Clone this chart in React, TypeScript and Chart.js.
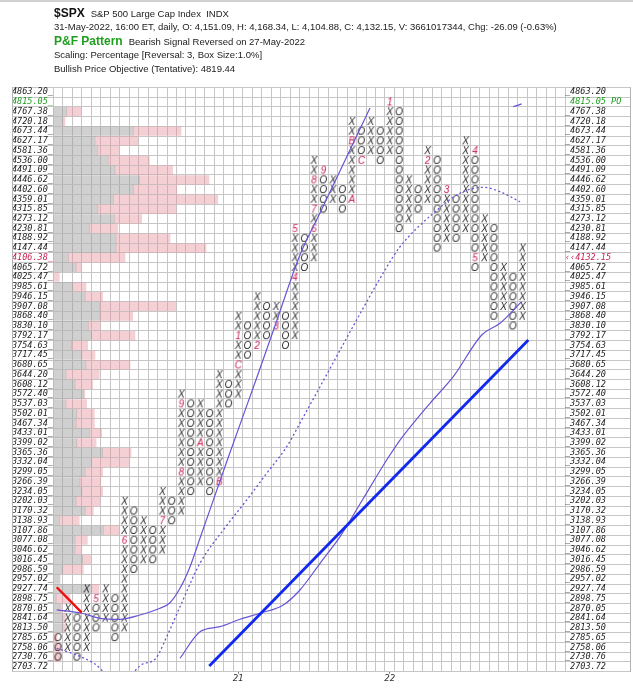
import React, { useEffect, useRef } from 'react';
import { Chart, registerables } from 'chart.js';

Chart.register(...registerables);

// ---------- DATA ----------
const priceLevels = [4863.20, 4815.05, 4767.38, 4720.18, 4673.44, 4627.17, 4581.36, 4536.00, 4491.09, 4446.62,
  4402.60, 4359.01, 4315.85, 4273.12, 4230.81, 4188.92, 4147.44, 4106.38, 4065.72, 4025.47,
  3985.61, 3946.15, 3907.08, 3868.40, 3830.10, 3792.17, 3754.63, 3717.45, 3680.65, 3644.20,
  3608.12, 3572.40, 3537.03, 3502.01, 3467.34, 3433.01, 3399.02, 3365.36, 3332.04, 3299.05,
  3266.39, 3234.05, 3202.03, 3170.32, 3138.93, 3107.86, 3077.08, 3046.62, 3016.45, 2986.59,
  2957.02, 2927.74, 2898.75, 2870.05, 2841.64, 2813.50, 2785.65, 2758.06, 2730.76, 2703.72];

const lastClose = 4132.15;
const lastCloseBox = 4106.38;
const priceObjectiveBox = 4815.05;

const columnTypes = ['O', 'X', 'O', 'X', 'O', 'X', 'O', 'X', 'O', 'X', 'O', 'X', 'O', 'X', 'O', 'X', 'O', 'X', 'O', 'X',
  'O', 'X', 'O', 'X', 'O', 'X', 'O', 'X', 'O', 'X', 'O', 'X', 'O', 'X', 'O', 'X', 'O', 'X', 'O', 'X',
  'O', 'X', 'O', 'X', 'O', 'X', 'O', 'X', 'O', 'X'];

const columnHighs = [2785.65, 2870.05, 2841.64, 2927.74, 2898.75, 2927.74, 2898.75, 3202.03, 3170.32, 3138.93,
  3107.86, 3234.05, 3202.03, 3572.40, 3537.03, 3537.03, 3502.01, 3644.20, 3608.12, 3868.40,
  3830.10, 3946.15, 3907.08, 3907.08, 3868.40, 4230.81, 4188.92, 4536.00, 4491.09, 4446.62,
  4402.60, 4720.18, 4673.44, 4720.18, 4673.44, 4815.05, 4767.38, 4446.62, 4402.60, 4581.36,
  4536.00, 4402.60, 4359.01, 4627.17, 4581.36, 4273.12, 4230.81, 4065.72, 4025.47, 4147.44];

const columnLows = [2730.76, 2758.06, 2730.76, 2758.06, 2813.50, 2841.64, 2785.65, 2813.50, 2986.59, 3016.45,
  3016.45, 3046.62, 3138.93, 3170.32, 3234.05, 3266.39, 3234.05, 3266.39, 3537.03, 3572.40,
  3717.45, 3754.63, 3792.17, 3830.10, 3754.63, 3792.17, 4065.72, 4106.38, 4315.85, 4359.01,
  4315.85, 4359.01, 4536.00, 4581.36, 4536.00, 4581.36, 4230.81, 4273.12, 4315.85, 4359.01,
  4147.44, 4188.92, 4188.92, 4230.81, 4065.72, 4106.38, 3868.40, 3907.08, 3830.10, 3868.40];

const monthColumns = [4, 7, 11, 13, 13, 15, 17, 19, 19, 21, 23, 25, 25, 27, 27, 27, 28, 31, 31, 32, 35, 39, 41, 44, 44];
const monthPrices = [2898.75, 3077.08, 3138.93, 3299.05, 3537.03, 3399.02, 3266.39, 3680.65, 3792.17, 3754.63,
  3830.10, 4025.47, 4230.81, 4230.81, 4315.85, 4446.62, 4491.09, 4359.01, 4627.17, 4536.00,
  4815.05, 4536.00, 4402.60, 4581.36, 4106.38];
const monthLabels = ['5', '6', '7', '8', '9', 'A', 'B', 'C', '1', '2', '3', '4', '5', '6', '7', '8', '9', 'A', 'B', 'C',
  '1', '2', '3', '4', '5'];

const yearLabels = ['21', '22'];
const yearColumns = [19, 35];

// volume-at-price histogram (in box-column units), one value per price row
const greyVolume = [0, 0, 1.41, 0.99, 8.44, 4.40, 4.64, 5.80, 6.51, 9.08,
  8.44, 6.33, 4.69, 6.44, 3.80, 6.62, 6.62, 1.58, 2.40, 0,
  2.05, 3.35, 4.93, 4.93, 3.69, 4.05, 1.94, 3.00, 3.45, 1.34,
  2.29, 3.17, 1.34, 2.47, 2.40, 3.80, 2.47, 5.21, 4.05, 3.35,
  2.82, 3.00, 2.40, 3.35, 0.63, 5.28, 2.29, 2.29, 3.10, 0.99,
  0.71, 4.05, 0.30, 0.71, 1.00, 1.00, 0, 0, 0, 0];
const pinkVolume = [0, 0, 1.51, 0.24, 5.04, 4.51, 2.32, 4.33, 6.09, 7.35,
  4.58, 11.02, 8.26, 2.89, 3.00, 5.70, 9.49, 5.99, 0.52, 0.63,
  1.40, 1.86, 7.99, 3.45, 1.24, 4.57, 1.69, 1.40, 4.64, 3.51,
  1.87, 0.15, 2.18, 1.86, 1.93, 1.31, 2.04, 2.99, 3.97, 1.86,
  2.18, 2.21, 2.53, 0.87, 2.11, 1.68, 1.30, 0.71, 0.85, 2.18,
  0, 0.77, 1.46, 0.20, 0.30, 0.30, 0.40, 0.80, 0.80, 0];

// overlays: [column position, box position from top]
const fastAverage = [[0.36, 53.66], [3.0, 54.0], [4.93, 54.52], [7.04, 54.62], [9.15, 54.18], [11.26, 53.49],
  [12.31, 52.92], [13.37, 51.44], [14.43, 49.22], [15.48, 46.3], [18.44, 38.06], [21.46, 29.85],
  [23.5, 24.2], [26.03, 17.22], [28.14, 12.91], [30.78, 7.52], [33.42, 2.13]];
const mediumAverage = [[0.36, 57.6], [2.47, 58.29], [4.4, 59.21], [6.93, 61.26], [9.43, 59.21], [10.73, 58.73],
  [11.97, 56.41], [13.37, 53.33], [15.48, 48.87], [17.94, 45.45], [20.41, 42.37], [22.52, 39.63],
  [24.63, 36.9], [26.21, 34.16], [28.15, 30.74], [31.31, 25.12], [35.0, 18.76], [36.59, 16.37],
  [40.1, 12.94], [42.92, 10.88], [45.38, 10.27], [47.14, 10.72], [49.25, 11.75]];
const slowAverage = [[13.37, 58.62], [15.48, 55.89], [17.59, 55.38], [19.7, 54.62], [21.81, 54.0], [24.27, 53.15],
  [26.03, 51.61], [28.15, 48.87], [30.26, 46.14], [32.68, 42.27], [35.18, 38.27], [36.59, 36.22],
  [39.75, 32.44], [42.21, 29.71], [45.21, 25.43], [47.14, 24.23], [49.43, 22.01]];
const bullishSupport = [[16.46, 59.42], [50.13, 25.94]];
const bearishResistance = [[0.36, 51.33], [3.0, 53.93]];
const objectiveMark = [[48.54, 1.99], [49.43, 1.71]];

const totalColumns = 54;

// ---------- STYLE ----------
const GRID = '#c6c6c6';
const RED = '#c81e50';
const GREEN = '#1f9e1f';
const LINE = 'rgb(104,84,214)';

function glyph(ch: string, color: string) {
  const c = document.createElement('canvas');
  c.width = 11;
  c.height = 11;
  const g = c.getContext('2d')!;
  g.font = 'italic 10px "Liberation Sans", Arial, sans-serif';
  g.fillStyle = color;
  g.textAlign = 'center';
  g.textBaseline = 'alphabetic';
  g.fillText(ch, 5.5, 9.2);
  return c;
}

const rowOf = (p: number) => priceLevels.indexOf(p);
const pts = (arr: number[][]) => arr.map(([x, y]) => ({ x, y }));

export default function App() {
  const ref = useRef<HTMLCanvasElement>(null);

  useEffect(() => {
    document.body.style.margin = '0';
    const xGlyph = glyph('X', '#1e1e1e');
    const oGlyph = glyph('O', '#1e1e1e');
    const markGlyphs = monthLabels.map((l) => glyph(l, RED));

    const marked = new Set(monthColumns.map((c, i) => c + ':' + rowOf(monthPrices[i])));
    const xs: { x: number; y: number }[] = [];
    const os: { x: number; y: number }[] = [];
    columnTypes.forEach((t, c) => {
      const top = rowOf(columnHighs[c]);
      const bottom = rowOf(columnLows[c]);
      for (let r = top; r <= bottom; r++) {
        if (marked.has(c + ':' + r)) continue;
        (t === 'X' ? xs : os).push({ x: c + 0.5, y: r + 0.5 });
      }
    });
    const marks = monthColumns.map((c, i) => ({ x: c + 0.5, y: rowOf(monthPrices[i]) + 0.5 }));

    const rowH = 584.4 / priceLevels.length;
    const edges = () => Array.from({ length: priceLevels.length + 1 }, (_, i) => ({ value: i }));
    const colEdges = () => Array.from({ length: totalColumns + 1 }, (_, i) => ({ value: i }));
    const tickFont = { family: '"DejaVu Sans Mono", monospace', size: 8.5, style: 'italic' as const };
    const labelColor = (ctx: any) => {
      const p = priceLevels[ctx.index];
      if (p === priceObjectiveBox) return GREEN;
      if (p === lastCloseBox) return RED;
      return '#222';
    };

    const lineDs = (data: number[][], extra: any) => ({
      type: 'line' as const,
      data: pts(data),
      xAxisID: 'x',
      yAxisID: 'y',
      pointRadius: 0,
      borderColor: LINE,
      borderWidth: 1.2,
      fill: false,
      cubicInterpolationMode: 'monotone' as const,
      order: 0,
      ...extra,
    });

    const chart = new Chart(ref.current!, {
      type: 'scatter',
      data: {
        datasets: [
          lineDs(bullishSupport, { borderColor: 'rgb(18,40,238)', borderWidth: 2.8 }),
          lineDs(bearishResistance, { borderColor: 'rgb(240,12,12)', borderWidth: 2.3 }),
          lineDs(fastAverage, {}),
          lineDs(mediumAverage, { borderDash: [2, 2.5], borderWidth: 1.3 }),
          lineDs(slowAverage, {}),
          lineDs(objectiveMark, { borderWidth: 1.4 }),
          {
            type: 'scatter', data: xs, pointStyle: xGlyph, pointRadius: 4, order: 1,
            xAxisID: 'x', yAxisID: 'y',
          },
          {
            type: 'scatter', data: os, pointStyle: oGlyph, pointRadius: 4, order: 1,
            xAxisID: 'x', yAxisID: 'y',
          },
          {
            type: 'scatter', data: marks, order: 1, pointRadius: 4,
            pointStyle: (ctx: any) => (ctx.dataIndex != null ? markGlyphs[ctx.dataIndex] : 'circle'),
            xAxisID: 'x', yAxisID: 'y',
          },
          {
            type: 'bar', indexAxis: 'y', grouped: false, order: 2, barThickness: 8.6,
            xAxisID: 'x', yAxisID: 'y',
            backgroundColor: 'rgba(150,150,150,0.45)', borderWidth: 0,
            data: greyVolume.map((v, i) => ({ y: i + 0.5, x: [0, v] })).filter((d) => d.x[1] > 0),
          } as any,
          {
            type: 'bar', indexAxis: 'y', grouped: false, order: 2, barThickness: 8.6,
            xAxisID: 'x', yAxisID: 'y',
            backgroundColor: 'rgba(228,140,150,0.42)', borderWidth: 0,
            data: pinkVolume
              .map((v, i) => ({ y: i + 0.5, x: [greyVolume[i], greyVolume[i] + v] }))
              .filter((d) => d.x[1] > d.x[0]),
          } as any,
        ],
      },
      options: {
        responsive: false,
        animation: false,
        events: [],
        layout: { padding: { left: 12, right: 2, top: 87.3, bottom: 0 } },
        plugins: { legend: { display: false }, tooltip: { enabled: false } },
        scales: {
          x: {
            type: 'linear', position: 'bottom', min: 0, max: totalColumns, offset: false,
            afterBuildTicks: (s: any) => { s.ticks = colEdges(); },
            afterFit: (s: any) => { s.height = 0; },
            grid: { color: GRID, drawTicks: false, offset: false },
            border: { display: false },
            ticks: { display: false, autoSkip: false },
          },
          x2: {
            type: 'linear', position: 'bottom', min: 0, max: totalColumns, offset: false,
            afterBuildTicks: (s: any) => { s.ticks = yearColumns.map((c) => ({ value: c + 0.5 })); },
            afterFit: (s: any) => { s.height = 18.3; },
            grid: { drawOnChartArea: false, tickLength: 2, color: '#777' },
            border: { display: false },
            ticks: {
              autoSkip: false, maxRotation: 0, padding: 0, color: '#333',
              font: { family: '"DejaVu Sans Mono", monospace', size: 9, style: 'italic' },
              callback: (_v: any, i: number) => yearLabels[i],
            },
          },
          y: {
            type: 'linear', position: 'left', min: 0, max: priceLevels.length, reverse: true, offset: false,
            afterBuildTicks: (s: any) => { s.ticks = edges(); },
            afterFit: (s: any) => { s.width = 41.3; },
            grid: { color: GRID, tickLength: 41.3, offset: false },
            border: { display: false },
            ticks: {
              autoSkip: false, crossAlign: 'far', labelOffset: rowH / 2, font: tickFont, color: labelColor,
              callback: (_v: any, i: number) =>
                i < priceLevels.length ? priceLevels[i].toFixed(2) + (i < priceLevels.length - 1 ? '_' : '') : '',
            },
          },
          yR: {
            type: 'linear', position: 'right', min: 0, max: priceLevels.length, reverse: true, offset: false,
            afterBuildTicks: (s: any) => { s.ticks = edges(); },
            afterFit: (s: any) => { s.width = 66; },
            grid: { color: GRID, tickLength: 66, drawOnChartArea: false },
            border: { display: false },
            ticks: {
              autoSkip: false, padding: -66, labelOffset: rowH / 2, font: tickFont, color: labelColor,
              callback: (_v: any, i: number) => {
                if (i >= priceLevels.length) return '';
                const p = priceLevels[i];
                if (p === priceObjectiveBox) return ' ' + p.toFixed(2) + ' PO';
                if (p === lastCloseBox) return '‹‹' + lastClose.toFixed(2);
                return (i < priceLevels.length - 1 ? '_' : ' ') + p.toFixed(2);
              },
            },
          },
        },
      },
      plugins: [
        {
          id: 'frame',
          beforeDatasetsDraw(c: any) {
            const { ctx, chartArea, scales } = c;
            ctx.save();
            ctx.strokeStyle = '#b4b4b4';
            ctx.lineWidth = 1;
            const l = Math.round(scales.y.left) + 0.5;
            const r = Math.round(scales.yR.right) - 0.5;
            ctx.beginPath();
            ctx.moveTo(l, chartArea.top);
            ctx.lineTo(l, chartArea.bottom);
            ctx.moveTo(r, chartArea.top);
            ctx.lineTo(r, chartArea.bottom);
            ctx.stroke();
            ctx.restore();
          },
        },
      ],
    } as any);
    return () => chart.destroy();
  }, []);

  const base: React.CSSProperties = {
    position: 'absolute', left: 54, whiteSpace: 'pre', lineHeight: '14px', fontSize: 9.5, color: '#222',
  };

  return (
    <div style={{ position: 'fixed', left: 0, top: 0, width: 633, height: 690, background: '#fff', overflow: 'hidden',
      fontFamily: '"Liberation Sans", Arial, sans-serif' }}>
      <div style={{ position: 'absolute', left: 0, top: 0, width: 633, height: 2, background: '#d0d0d0' }} />
      <canvas ref={ref} width={633} height={690} style={{ position: 'absolute', left: 0, top: 0, width: 633, height: 690 }} />
      <div style={{ ...base, top: 6 }}>
        <span style={{ fontWeight: 'bold', fontSize: 12, color: '#111' }}>$SPX</span>
        <span style={{ marginLeft: 6 }}>S&amp;P 500 Large Cap Index  INDX</span>
      </div>
      <div style={{ ...base, top: 19.5 }}>
        31-May-2022, 16:00 ET, daily, O: 4,151.09, H: 4,168.34, L: 4,104.88, C: 4,132.15, V: 3661017344, Chg: -26.09 (-0.63%)
      </div>
      <div style={{ ...base, top: 34 }}>
        <span style={{ fontWeight: 'bold', fontSize: 12, color: GREEN }}>P&amp;F Pattern</span>
        <span style={{ marginLeft: 6 }}>Bearish Signal Reversed on 27-May-2022</span>
      </div>
      <div style={{ ...base, top: 47.5 }}>Scaling: Percentage [Reversal: 3, Box Size:1.0%]</div>
      <div style={{ ...base, top: 62 }}>Bullish Price Objective (Tentative): 4819.44</div>
    </div>
  );
}
